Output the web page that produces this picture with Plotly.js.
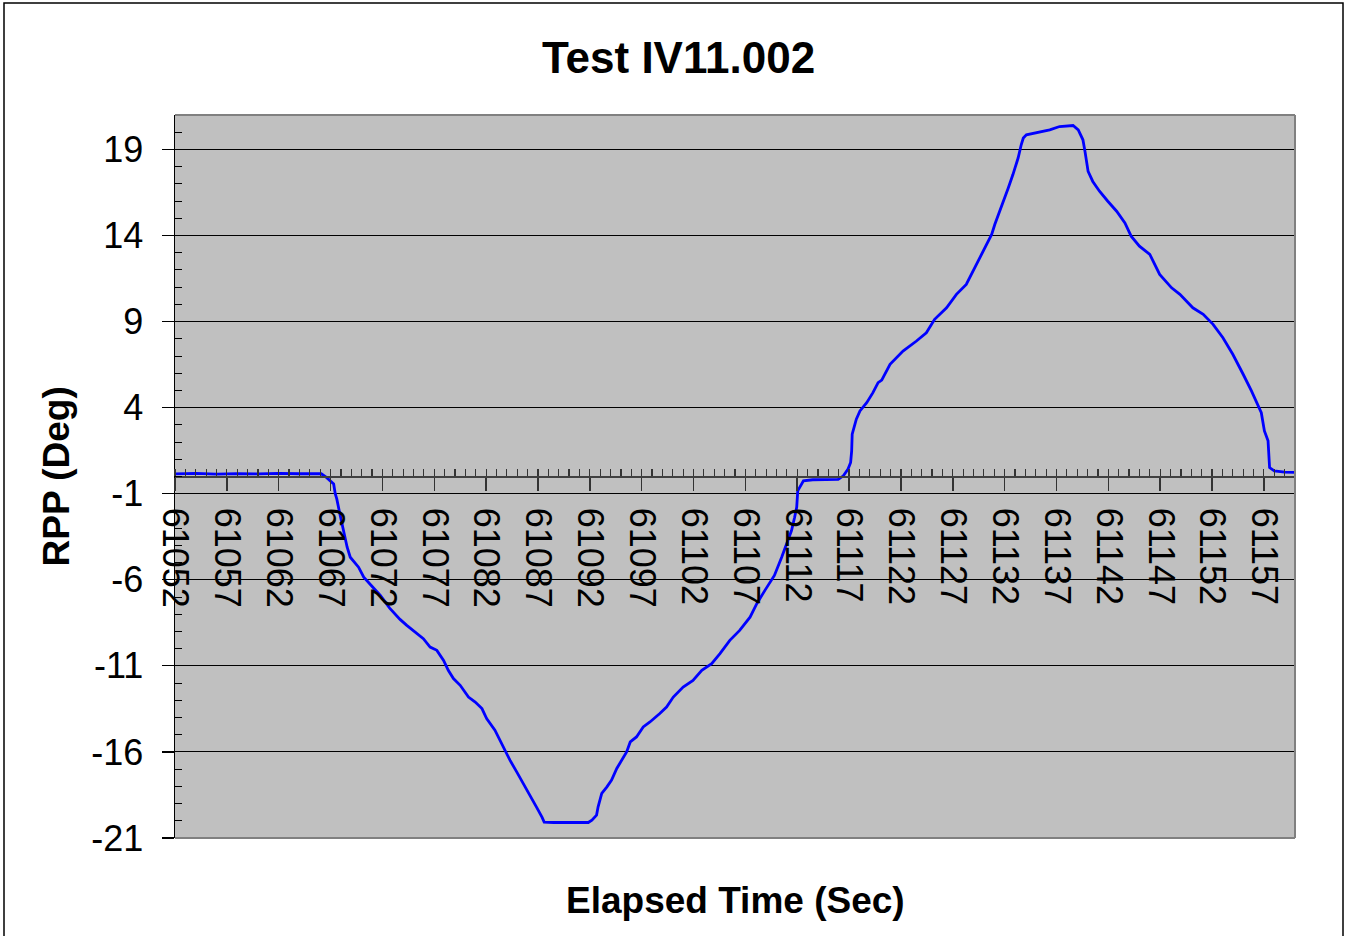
<!DOCTYPE html>
<html>
<head>
<meta charset="utf-8">
<script src="https://cdn.plot.ly/plotly-3.0.1.min.js"></script>
<style>html,body{margin:0;padding:0;background:#fff;}#chart{width:1345px;height:936px;}</style>
</head>
<body>
<div id="chart"></div>
<script>
const chartTitle = "Test IV11.002";
const xTitle = "Elapsed Time (Sec)";
const yTitle = "RPP (Deg)";
const xTickValues = [61052,61057,61062,61067,61072,61077,61082,61087,61092,61097,61102,61107,61112,61117,61122,61127,61132,61137,61142,61147,61152,61157];
const yTickValues = [-21,-16,-11,-6,-1,4,9,14,19];

const elapsed = [61052,61054,61056,61058,61060,61062,61064,61066.1,61066.6,61067.3,61067.45,61067.6,61067.9,61068.1,61068.25,61068.6,61068.9,61069.7,61070.2,61070.8,61071.8,61072.7,61073.7,61074.35,61075.15,61075.95,61076.6,61077.25,61077.9,61078.35,61078.85,61079.5,61080.3,61080.95,61081.6,61082.05,61082.85,61083.65,61084.3,61084.95,61085.6,61086.25,61086.9,61087.4,61087.6,61088.5,61090,61091.85,61092.2,61092.65,61092.8,61093.15,61093.65,61094.1,61094.6,61095.05,61095.55,61095.9,61096.5,61097.15,61097.8,61098.75,61099.4,61100.05,61101,61101.95,61102.8,61103.75,61104.55,61105.5,61106.45,61107.45,61108.1,61108.9,61109.8,61110.5,61110.95,61111.45,61111.75,61111.95,61112.05,61112.25,61112.6,61113.5,61115,61115.95,61116.45,61116.9,61117.15,61117.25,61117.3,61117.55,61117.7,61118.05,61118.7,61119.3,61119.8,61120.15,61120.95,61122.2,61123.5,61124.45,61125.25,61126.4,61127.35,61128.3,61128.95,61129.6,61130.25,61130.75,61131.05,61131.55,61132,61132.35,61132.8,61133.3,61133.6,61133.8,61134.1,61135.4,61136.35,61137.3,61138.6,61139.1,61139.55,61139.75,61139.85,61140.05,61140.5,61141.15,61141.95,61142.8,61143.6,61144.2,61145,61146,61146.95,61148.1,61148.9,61150.15,61151.15,61152.1,61153.05,61154,61155,61155.8,61156.75,61157.05,61157.4,61157.55,61158,61159,61160];
const rpp = [0.15,0.18,0.14,0.17,0.15,0.18,0.16,0.16,-0.05,-0.44,-1.0,-1.3,-2.18,-2.76,-3.24,-4.11,-4.69,-5.27,-5.85,-6.24,-6.91,-7.65,-8.3,-8.65,-9.04,-9.42,-9.91,-10.1,-10.68,-11.26,-11.74,-12.13,-12.81,-13.1,-13.48,-14.06,-14.74,-15.71,-16.48,-17.16,-17.83,-18.55,-19.25,-19.8,-20.08,-20.1,-20.1,-20.1,-19.96,-19.67,-19.19,-18.41,-18.03,-17.64,-16.96,-16.48,-16.0,-15.42,-15.13,-14.55,-14.26,-13.77,-13.39,-12.81,-12.23,-11.84,-11.26,-10.87,-10.29,-9.52,-8.94,-8.17,-7.39,-6.6,-5.75,-4.69,-3.92,-3.14,-2.37,-1.79,-0.83,-0.63,-0.25,-0.19,-0.19,-0.17,0.04,0.43,0.82,1.49,2.46,3.04,3.33,3.81,4.29,4.87,5.45,5.6,6.52,7.29,7.87,8.35,9.13,9.8,10.58,11.16,11.93,12.7,13.48,14.06,14.64,15.41,16.18,16.76,17.54,18.5,19.27,19.66,19.85,20.0,20.14,20.33,20.39,20.14,19.56,18.88,18.5,17.72,17.14,16.57,15.99,15.41,14.73,13.96,13.38,12.9,11.74,10.96,10.58,9.8,9.42,8.84,8.06,7.1,5.94,4.97,3.71,2.65,2.07,0.52,0.33,0.25,0.24];

const FONT = "Liberation Sans, Arial, sans-serif";

const trace = {
  x: elapsed, y: rpp, type: "scatter", mode: "lines",
  line: {color: "#0000FF", width: 2.8},
  hoverinfo: "x+y"
};

const layout = {
  width: 1345, height: 936,
  margin: {l: 175, r: 50, t: 115, b: 98, pad: 0},
  paper_bgcolor: "#FFFFFF",
  plot_bgcolor: "#C0C0C0",
  showlegend: false,
  font: {family: FONT, color: "#000"},
  title: {
    text: chartTitle,
    font: {family: FONT, size: 44, color: "#000", weight: "bold"},
    x: 0.5045, xref: "container", xanchor: "center",
    y: 0.938, yref: "container", yanchor: "middle"
  },
  xaxis: {
    range: [61052, 61160],
    anchor: "free", position: 0.5,
    tickmode: "array", tickvals: xTickValues, ticktext: xTickValues.map(String),
    tickangle: 90,
    ticks: "outside", ticklen: 13, tickwidth: 1.5, tickcolor: "#333",
    ticklabelstandoff: 10,
    tickfont: {family: FONT, size: 36, color: "#000"},
    minor: {dtick: 1, tick0: 61052, ticks: "inside", ticklen: 7, tickwidth: 1.2, tickcolor: "#333", showgrid: false},
    showline: true, linecolor: "#404040", linewidth: 2,
    showgrid: false, zeroline: false,
    fixedrange: true
  },
  yaxis: {
    range: [-21, 21],
    tickmode: "array", tickvals: yTickValues, ticktext: yTickValues.map(String),
    ticks: "outside", ticklen: 12, tickwidth: 1.2, tickcolor: "#000",
    ticklabelstandoff: 11,
    tickfont: {family: FONT, size: 36, color: "#000"},
    minor: {dtick: 1, tick0: -21, ticks: "inside", ticklen: 7, tickwidth: 1, tickcolor: "#000", showgrid: false},
    showgrid: true, gridcolor: "#000000", gridwidth: 1,
    showline: true, linecolor: "#000", linewidth: 1.5,
    zeroline: false,
    fixedrange: true
  },
  annotations: [
    {text: xTitle, xref: "paper", yref: "paper", x: 0.5, y: -0.087, xanchor: "center", yanchor: "middle",
     showarrow: false, font: {family: FONT, size: 37, color: "#000", weight: "bold"}},
    {text: yTitle, xref: "paper", yref: "paper", x: -0.1054, y: 0.5, xanchor: "center", yanchor: "middle",
     textangle: -90, showarrow: false, font: {family: FONT, size: 37, color: "#000", weight: "bold"}}
  ],
  shapes: [
    {type: "line", xref: "paper", yref: "paper", x0: 0, x1: 1, y0: 1, y1: 1, line: {color: "#808080", width: 2}, layer: "above"},
    {type: "line", xref: "paper", yref: "paper", x0: 1, x1: 1, y0: 0, y1: 1, line: {color: "#808080", width: 2}, layer: "above"},
    {type: "line", xref: "paper", yref: "paper", x0: 0, x1: 1, y0: 0, y1: 0, line: {color: "#808080", width: 2}, layer: "above"},
    {type: "rect", xref: "paper", yref: "paper", x0: (4-175)/1120, x1: (1343-175)/1120, y0: (838-945)/723, y1: (838-3)/723,
     line: {color: "#000", width: 1.5}, fillcolor: "rgba(0,0,0,0)", layer: "above"}
  ]
};

Plotly.newPlot("chart", [trace], layout, {displayModeBar: false, staticPlot: true});
</script>
</body>
</html>
